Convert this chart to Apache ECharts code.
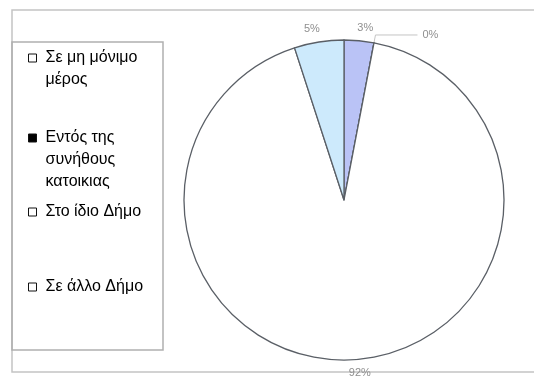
<!DOCTYPE html>
<html>
<head>
<meta charset="utf-8">
<script src="https://cdn.jsdelivr.net/npm/echarts@6/dist/echarts.min.js"></script>
<style>
  html, body { margin: 0; padding: 0; background: #fff; }
  #chart { width: 534px; height: 379px; }
</style>
</head>
<body>
<div id="chart"></div>
<script>
// categories (legend text, with its own line breaks) and shares in %
var categories = ["Σε μη μόνιμο\nμέρος", "Εντός της\nσυνήθους\nκατοικιας", "Στο ίδιο Δήμο", "Σε άλλο Δήμο"];
var values = [3, 0, 92, 5];
var colors = ["#BAC3F6", "#000000", "#FFFFFF", "#CDEAFC"];
var markerColors = ["#FFFFFF", "#000000", "#FFFFFF", "#FFFFFF"];
var legendTops = [47, 127, 201, 276];

var myChart = echarts.init(document.getElementById("chart"));

// one legend per entry so each one sits where it sits in the picture
var legends = categories.map(function (name, i) {
  var lines = name.split("\n").length;
  var h = 22 * lines - 14; // keeps the marker on the first line
  return {
    left: 28,
    top: legendTops[i],
    padding: 0,
    orient: "vertical",
    itemWidth: 12,
    itemHeight: h,
    selectedMode: false,
    textStyle: {
      fontFamily: "Liberation Sans",
      fontSize: 16,
      color: "#000",
      lineHeight: 22,
    },
    data: [
      {
        name: name,
        icon: "path://M0,0H8V8H0Z M12," + h,
        itemStyle: {
          color: markerColors[i],
          borderColor: "#111",
          borderWidth: 1,
        },
      },
    ],
  };
});

var pieData = categories.map(function (name, i) {
  var item = {
    name: name,
    value: values[i],
    itemStyle: { color: colors[i] },
  };
  if (values[i] === 0) {
    item.labelLine = { show: true, length: 8, length2: 42, lineStyle: { color: "#c4c4c4", width: 1 } };
  }
  return item;
});

var option = {
  animation: false,
  graphic: [
    {
      type: "rect",
      shape: { x: 12, y: 10, width: 530, height: 362 },
      style: { fill: "none", stroke: "#c4c4c4", lineWidth: 1.5 },
      z: 0,
    },
    {
      type: "rect",
      shape: { x: 12, y: 42, width: 151, height: 308 },
      style: { fill: "none", stroke: "#b0b0b0", lineWidth: 1.5 },
      z: 0,
    },
  ],
  legend: legends,
  series: [
    {
      type: "pie",
      center: [344, 200],
      radius: 160,
      startAngle: 90,
      clockwise: true,
      avoidLabelOverlap: false,
      minShowLabelAngle: 0,
      itemStyle: {
        borderColor: "#5a5f66",
        borderWidth: 1.3,
      },
      label: {
        show: true,
        position: "outside",
        formatter: "{d}%",
        fontFamily: "Liberation Sans",
        fontSize: 11,
        color: "#8f8f8f",
      },
      labelLine: { show: false, length: 13, length2: 0 },
      labelLayout: function (params) {
        // Excel centres these labels over the slice
        if (values[params.dataIndex] === 0) return {};
        return { align: "center" };
      },
      emphasis: { disabled: true },
      data: pieData,
    },
  ],
};

myChart.setOption(option);
</script>
</body>
</html>
